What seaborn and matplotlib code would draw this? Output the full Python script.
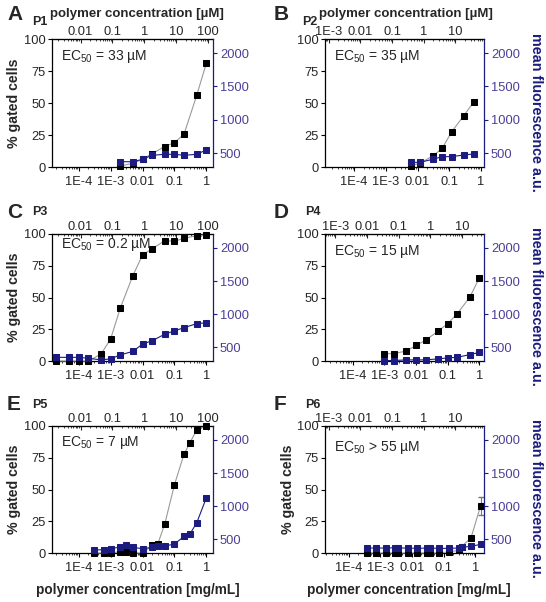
import numpy as np
import matplotlib
matplotlib.use('Agg')
import matplotlib.pyplot as plt
import seaborn as sns
from matplotlib.ticker import FuncFormatter, LogLocator, NullFormatter

sns.set_style('ticks')
plt.rcParams['font.family'] = ['Liberation Sans', 'DejaVu Sans']
plt.rcParams['mathtext.fontset'] = 'custom'
plt.rcParams['mathtext.rm'] = 'Liberation Sans'
plt.rcParams['mathtext.it'] = 'Liberation Sans:italic'
plt.rcParams['mathtext.bf'] = 'Liberation Sans:bold'

# data: x in mg/mL, % gated cells, mean fluorescence
a_x = [0.002, 0.005, 0.01, 0.02, 0.05, 0.1, 0.2, 0.5, 1]
a_pct = [0.8, 2.9, 6, 10.5, 16, 19, 25.6, 56, 81]
a_fl = [374, 374, 410, 470, 485, 485, 470, 485, 550]

b_x = [0.006, 0.012, 0.03, 0.06, 0.12, 0.29, 0.59]
b_pct = [1, 3, 8.6, 14.6, 27.6, 40.2, 50.7]
b_fl = [365, 365, 410, 450, 450, 475, 490]

c_x = [2e-5, 5e-5, 1e-4, 2e-4, 5e-4, 1e-3, 2e-3, 5e-3, 0.01, 0.02, 0.05, 0.1, 0.2, 0.5, 1]
c_pct = [0, 0, 0, 0, 5.5, 17.3, 41.6, 67.3, 83.6, 88.3, 94.8, 94.3, 96.6, 98.7, 99.3]
c_fl = [350, 350, 350, 336, 312, 327, 387, 440, 551, 600, 700, 749, 798, 858, 872]

d_x = [0.001, 0.002, 0.005, 0.01, 0.02, 0.05, 0.1, 0.2, 0.5, 1]
d_pct = [5.8, 5.8, 7.9, 12.3, 16.3, 23.6, 29.4, 37.2, 50.3, 65.5]
d_fl = [302, 302, 312, 312, 312, 327, 342, 351, 391, 425]

e_x = [0.0003, 0.0006, 0.001, 0.002, 0.003, 0.005, 0.01, 0.02, 0.03, 0.05, 0.1, 0.2, 0.3, 0.5, 1]
e_pct = [0, 0, 0, 1, 1, 0, 0, 6, 7, 23, 53.7, 77.8, 86.4, 96.9, 100]
e_fl = [340, 345, 360, 385, 410, 380, 360, 380, 400, 400, 430, 545, 575, 750, 1125]

f_x = [0.00037, 0.00074, 0.0015, 0.003, 0.0037, 0.0074, 0.015, 0.03, 0.037, 0.074,
       0.15, 0.3, 0.37, 0.74, 1.48]
f_pct = [0, 0, 0, 0, 0, 0, 0, 0, 0, 0, 1, 2, 5, 12, 37]
f_fl = [370, 370, 370, 375, 370, 370, 365, 370, 370, 365, 365, 370, 380, 396, 425]
f_err = [0, 0, 0, 0, 0, 0, 0, 0, 0, 0, 0, 0, 0, 0, 7]

letters = ['A', 'B', 'C', 'D', 'E', 'F']
names = ['P1', 'P2', 'P3', 'P4', 'P5', 'P6']
ec50 = ['= 33 µM', '= 35 µM', '= 0.2 µM', '= 15 µM', '= 7 µM', '> 55 µM']
# mg/mL -> µM factor for the top axis
factors = [88, 64, 88, 35, 88, 42]

W, H = 546, 602
navy = '#1c1c80'
tick_blue = '#4a3f98'

fig = plt.figure(figsize=(W / 100, H / 100), dpi=100)


def box(l, t, r, b):
    return [l / W, 1 - b / H, (r - l) / W, (b - t) / H]


def dec_fmt(v, pos):
    if v <= 0:
        return ''
    e = np.log10(v)
    if abs(e - round(e)) > 1e-6:
        return ''
    e = int(round(e))
    if e <= -3:
        return '1E%d' % e
    return '%g' % v


boxes = [box(52, 39, 213, 167), box(325, 39, 484, 167),
         box(52, 234, 213, 361), box(325, 234, 484, 361),
         box(52, 426, 213, 553), box(325, 426, 484, 553)]
xlims = [(1.45e-5, 1.62), (1.2e-5, 1.25), (1.45e-5, 1.62),
         (1.35e-5, 1.4), (1.45e-5, 1.62), (1.8e-5, 1.9)]
ec_y = [0.86, 0.86, 0.92, 0.86, 0.87, 0.83]
series = [(a_x, a_pct, a_fl), (b_x, b_pct, b_fl), (c_x, c_pct, c_fl),
          (d_x, d_pct, d_fl), (e_x, e_pct, e_fl), (f_x, f_pct, f_fl)]

fs = 9.3      # tick labels
lfs = 9.8     # axis titles
for i, (xs, pct, fl) in enumerate(series):
    ax = fig.add_axes(boxes[i])
    ax.set_xscale('log')
    right_col = i % 2 == 1

    if i == 5:
        ax.errorbar(f_x, f_pct, yerr=f_err, fmt='none', ecolor='#777777',
                    elinewidth=0.8, capsize=2, zorder=2, clip_on=False)
    sns.lineplot(x=xs, y=pct, ax=ax, color='#9a9a9a', lw=0.8, marker='s',
                 markersize=5, markerfacecolor='black', markeredgecolor='black',
                 clip_on=False, zorder=3)
    ax.set_xlim(*xlims[i])
    ax.set_ylim(0, 100)
    ax.set_yticks([0, 25, 50, 75, 100])
    ax.xaxis.set_major_locator(LogLocator(base=10, numticks=12))
    ax.xaxis.set_minor_locator(LogLocator(base=10, subs=np.arange(2, 10), numticks=12))
    ax.xaxis.set_major_formatter(FuncFormatter(dec_fmt))
    ax.xaxis.set_minor_formatter(NullFormatter())
    ax.tick_params(axis='both', which='major', direction='out', length=3, width=0.8,
                   labelsize=fs, pad=1.5, color='black')
    ax.tick_params(axis='x', which='major', pad=3.5)
    ax.tick_params(axis='x', which='minor', direction='out', length=1.6, width=0.6)
    for s in ['left', 'bottom', 'top']:
        ax.spines[s].set_color('black')
        ax.spines[s].set_linewidth(0.9)
    ax.spines['right'].set_visible(False)
    ax.set_xlabel('')
    ax.set_ylabel('')

    if not right_col or i == 5:
        ax.set_ylabel('% gated cells', fontsize=lfs + 0.4, fontweight='bold')
        ax.yaxis.set_label_coords(-0.19, 0.5)
    if i >= 4:
        ax.set_xlabel('polymer concentration [mg/mL]', fontsize=lfs,
                      fontweight='bold')
        ax.xaxis.set_label_coords(0.53, -0.24)

    ax.text(0.055, ec_y[i], 'EC$_{50}$ ' + ec50[i], transform=ax.transAxes,
            fontsize=10, va='center', ha='left', zorder=5)

    # top axis in µM
    f = factors[i]
    sec = ax.secondary_xaxis('top', functions=(lambda v, f=f: v * f,
                                               lambda v, f=f: v / f))
    sec.xaxis.set_major_locator(LogLocator(base=10, numticks=12))
    sec.xaxis.set_minor_locator(LogLocator(base=10, subs=np.arange(2, 10), numticks=12))
    sec.xaxis.set_major_formatter(FuncFormatter(dec_fmt))
    sec.xaxis.set_minor_formatter(NullFormatter())
    sec.tick_params(axis='x', which='major', direction='in', length=3, width=0.8,
                    labelsize=fs, pad=0.5)
    sec.tick_params(axis='x', which='minor', direction='in', length=1.6, width=0.6)

    # fluorescence on the right axis
    ax2 = ax.twinx()
    sns.lineplot(x=xs, y=fl, ax=ax2, color=navy, lw=0.8, marker='s',
                 markersize=5, markerfacecolor=navy, markeredgecolor=navy,
                 clip_on=False, zorder=3)
    ax2.set_ylim(295, 2210)
    ax2.set_yticks([500, 1000, 1500, 2000])
    ax2.tick_params(axis='y', direction='out', length=3, width=0.8, labelsize=fs,
                    pad=2, colors=tick_blue)
    ax2.tick_params(axis='y', color=navy)
    for s in ['left', 'bottom', 'top']:
        ax2.spines[s].set_visible(False)
    ax2.spines['right'].set_color(navy)
    ax2.spines['right'].set_linewidth(0.9)
    ax2.set_xlabel('')
    ax2.set_ylabel('')
    if right_col:
        ax2.set_ylabel('mean fluorescence a.u.', fontsize=lfs + 0.6,
                       fontweight='bold', color=navy, rotation=-90)
        ax2.yaxis.set_label_coords(1.37, 0.43)

# top axis titles (µM)
for cx in (137, 406):
    fig.text(cx / W, 1 - 14 / H, 'polymer concentration [µM]', fontsize=lfs - 0.3,
             fontweight='bold', va='center', ha='center')

# panel letters and polymer names
letter_pos = [(7, 15), (274, 15), (7, 212), (274, 212), (7, 405), (274, 405)]
name_pos = [(32, 22), (302, 22), (32, 212), (305, 212), (32, 405), (305, 405)]
for i in range(6):
    lx, ly = letter_pos[i]
    nx, ny = name_pos[i]
    fig.text(lx / W, 1 - ly / H, letters[i], fontsize=15, fontweight='bold',
             va='center', ha='left')
    fig.text(nx / W, 1 - ny / H, names[i], fontsize=9, fontweight='bold',
             va='center', ha='left')

fig.savefig('out.png', dpi=100)
